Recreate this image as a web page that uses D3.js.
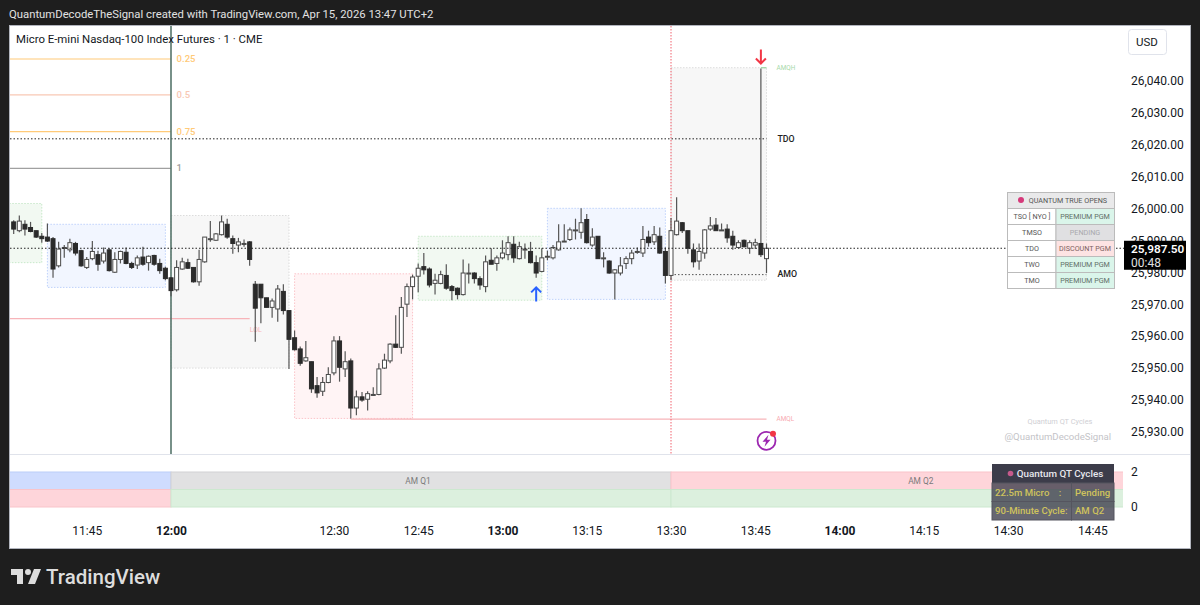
<!DOCTYPE html>
<html>
<head>
<meta charset="utf-8">
<script src="https://cdn.jsdelivr.net/npm/d3@7"></script>
<style>
  html, body { margin: 0; padding: 0; background: #1e1e1e; }
  svg { display: block; }
  text { font-family: Roboto, "Noto Sans", sans-serif; }
</style>
</head>
<body>
<div id="chart"></div>
<script>
var svgWidth = 1200;
var svgHeight = 605;

// Bars, one minute each. First bar sits 28 bars before 12:00
var firstBar = -28;
var opens = [
  25995.75,25993,25995,25994,25993,25991.25,25991,25990.5,25982,25987.5,
  25987,25989,25986.75,25981.5,25984.25,25985.5,25983.5,25987,25980,25984,
  25986.25,25982.75,25982.25,25984.75,25983,25985.25,25982.75,25981.25,
  25978.25,25974.5,25981,25983,25981.5,25977,25983.25,25990.25,25990,25991.75,
  25995,25990.5,25988.5,25989,25989.5,25976.25,25976.25,25972,25969,25968.5,
  25974,25968,25959.5,25956,25952.25,25952,25944.5,25942.75,25945.5,25948.5,
  25958.5,25949.75,25952.25,25937.5,25941,25940.25,25941.5,25941.75,25950,25952.25,
  25957.5,25956.5,25970,25975.5,25978.75,25981.75,25981,25976.5,25976.5,25979,
  25975.5,25975,25973,25979.5,25979.75,25978,25975.5,25983.75,25982.75,25984.5,
  25985.5,25988.75,25984.25,25987,25986.5,25983,25980.25,25984.75,25984.5,25987,
  25989.5,25990.25,25993,25992.5,25996.5,25988.5,25991.25,25984.25,25983.5,25979.75,
  25979.75,25982.75,25984.25,25986.25,25986,25991,25989.5,25991.25,25986.5,25979,
  25991.75,25995.5,25993,25987,25983.5,25986,25993.5,25994.75,25993.25,25993.5,
  25991.25,25987.75,25990,25987.5,25988.5,25989,25984.25
];
var highs = [
  25996.25,25997.75,25996.25,25995.75,25993,25992.25,25995.25,25991,25989.5,25988.5,
  25990.5,25989.5,25987,25984.75,25989.75,25986.75,25987.75,25987.5,25986.25,25986.75,
  25987.75,25983.25,25985.25,25988,25985.25,25985.5,25984.25,25981.75,
  25978.5,25983.75,25984.5,25984.25,25981.5,25987,25991,25996,25992.25,25997.75,
  25996.75,25991.5,25990.75,25990.25,25989.75,25977.25,25976.25,25972,25971.75,25976,
  25976.25,25968,25961.75,25956.75,25958.5,25952,25947.25,25947.25,25950.25,25960,
  25960,25955.25,25953,25943,25942.5,25942.75,25944,25951.5,25954.5,25957.75,
  25966.5,25972.25,25976.5,25979.25,25982.75,25986,25981.5,25979.5,25980.5,25982.5,
  25976,25975.25,25984,25982.75,25980,25978.75,25985.25,25987.5,25985.25,25990,
  25991.25,25991.25,25989.5,25989,25989.5,25985.25,25987.5,25986.75,25988.5,25995,
  25995,25994,25996.75,26000,25998.25,25993.75,25991.25,25986.25,25983.75,25981,
  25984.75,25985,25987,25987.75,25994.5,25993,25994.5,25994,25987.75,25997,
  26003.5,25995.75,25993,25989,25989,25993.5,25997.25,25997,25995.25,25995,
  25993,25990,25990.25,25990,25990.5,26043.75,25989
];
var lows = [
  25992,25992.5,25991.5,25992.5,25990.75,25989.25,25989.5,25978.25,25981.5,25984.5,
  25986.25,25985.25,25981.75,25981,25983.75,25980.5,25982.75,25980.25,25979.75,25982.75,
  25982.5,25981,25981,25982,25980.5,25982,25979.5,25977.5,
  25972.5,25974,25980.75,25981,25976.75,25975.75,25983,25989.5,25989.75,25991.5,
  25990.5,25985.75,25986.25,25988,25982,25958.25,25964,25969,25965.75,25964.5,
  25966.75,25949.75,25955.5,25950.75,25952,25942.25,25940.75,25941.25,25945.25,25947.75,
  25945.75,25947.25,25934.25,25935.25,25939.5,25936.75,25941.25,25941.5,25949.75,25951.5,
  25956.25,25954.5,25966,25971.5,25973.75,25979.25,25975.25,25973,25976.25,25974.5,
  25971.25,25971.5,25972.75,25976.5,25976.5,25974.5,25973.75,25982.5,25980.5,25984,
  25983.75,25983,25984,25984.25,25982.75,25978.25,25980,25983.75,25984,25986.75,
  25989.5,25989.75,25990.25,25990.5,25989,25988,25984.25,25981.5,25979.5,25971.5,
  25979,25981,25982.5,25985.75,25984.75,25988,25988.5,25985.75,25976.5,25977.5,
  25991.5,25992.25,25985.75,25981.5,25980.75,25984.25,25993,25993,25993,25989.25,
  25987,25987.5,25987.75,25985.75,25987.25,25984.75,25979.75
];
var closes = [
  25993.5,25996,25993.5,25992.75,25991,25990.5,25989.75,25981,25987.25,25987.75,
  25989.25,25986,25982,25984,25986.5,25982.5,25986,25980.5,25984,25986.5,
  25982.75,25981.5,25984.5,25982.5,25985,25982.5,25980.5,25978,
  25974.25,25981.5,25983.25,25981.25,25977,25984,25991,25990.5,25992,25995.75,
  25991,25989,25989.5,25989,25984,25968.75,25972,25969,25971,25974.75,
  25968,25959,25955.75,25951.5,25953.25,25943.5,25942.25,25945.5,25948,25958.5,
  25950.25,25952,25937.5,25941,25940,25942,25941.75,25949.75,25952.5,25957.5,
  25956.5,25969,25975.5,25978.5,25981.25,25980.75,25976,25977.5,25979.25,25975,
  25974.25,25973,25979.75,25979.75,25978,25976,25983.25,25982.5,25984.5,25986,
  25989.25,25984.5,25988,25987.25,25983,25979.75,25984.5,25985,25987.75,25989.5,
  25989.75,25993.25,25993.25,25995.5,25989.25,25991,25984.25,25984.5,25979.75,25980.75,
  25982,25984.25,25986,25986.5,25990.25,25989.25,25991.75,25986,25979,25993,
  25996,25993,25987.5,25983.25,25986.5,25993.25,25994.5,25993,25993.25,25990.75,
  25988.5,25989.25,25988,25989.25,25989.25,25985.5,25987.5
];

// Price axis and the opening levels
var priceTicks = [26040, 26030, 26020, 26010, 26000, 25990, 25980, 25970, 25960, 25950, 25940, 25930];
var lastPrice = 25987.5;
var countdown = "00:48";
var fibNames = ["0.25", "0.5", "0.75", "1"];
var fibPrices = [26046.75, 26035.5, 26024, 26012.5];
var fibColors = ["#ffca78", "#f8c8b4", "#ffca78", "#a0a0a0"];
var tdoPrice = 26021.75;
var amoPrice = 25979.25;
var amqhPrice = 26044;
var amqlPrice = 25934;
var lolPrice = 25965.5;

// Session boxes: first bar, last bar, top price, bottom price
var boxStarts = [-40, -22, 0, 22, 44, 67, 89];
var boxEnds = [-23, -1, 21, 43, 66, 88, 106];
var boxTops = [26001.5, 25995, 25997.75, 25979.5, 25991.25, 26000, 26044];
var boxBottoms = [25983, 25975.25, 25950, 25934.25, 25971.25, 25971.5, 25977.5];
var boxKinds = ["green", "blue", "grey", "red", "green", "blue", "grey"];

// Time axis
var timeBars = [-15, 0, 29, 44, 59, 74, 89, 104, 119, 134, 149, 164];
var timeLabels = ["11:45", "12:00", "12:30", "12:45", "13:00", "13:15", "13:30", "13:45", "14:00", "14:15", "14:30", "14:45"];
var hourLabels = ["12:00", "13:00", "14:00"];

// Cycle pane: upper row (1 to 2) and lower row (0 to 1)
var cycleStarts = [-90, 0, 89];
var cycleEnds = [0, 89, 179];
var cycleNames = ["", "AM Q1", "AM Q2"];
var cycleUpper = ["blue", "grey", "red"];
var cycleLower = ["red", "green", "green"];
var paneTicks = [0, 2];

// The two tables
var openNames = ["TSO [ NYO ]", "TMSO", "TDO", "TWO", "TMO"];
var openStates = ["PREMIUM PGM", "PENDING", "DISCOUNT PGM", "PREMIUM PGM", "PREMIUM PGM"];
var cycleRowNames = ["22.5m Micro    :", "90-Minute Cycle:"];
var cycleRowValues = ["Pending", "AM Q2"];

var sessionFill = { green: "#f2f9f2", blue: "#f2f6ff", grey: "#f7f7f7", red: "#fff4f5" };
var sessionLine = { green: "#c8e8ca", blue: "#bfd2fb", grey: "#dcdcdc", red: "#fbc3c8" };
var paneFill = { green: "#dcf0de", blue: "#cfdcfe", grey: "#e1e1e2", red: "#fed5da" };
var paneEdge = { green: "#cce8cf", blue: "#bccdf8", grey: "#d2d2d4", red: "#f9c4ca" };
var stateFill = { "PREMIUM PGM": "#daf5ea", "PENDING": "#e0e0e2", "DISCOUNT PGM": "#fde3e3" };
var stateText = { "PREMIUM PGM": "#5f6e68", "PENDING": "#a9a9ad", "DISCOUNT PGM": "#7d5f5f" };

var plot = { left: 10, right: 1124, top: 26, bottom: 454 };
var pane = { top: 455, bottom: 518 };

var bars = d3.range(opens.length).map(function(i) {
  return { bar: firstBar + i, open: opens[i], high: highs[i], low: lows[i], close: closes[i] };
});

var svg = d3.select("#chart")
  .append("svg")
  .attr("width", svgWidth)
  .attr("height", svgHeight);

// scales: bar number to x, price to y
var xScale = d3.scaleLinear().domain([0, 89]).range([171, 671]);
var yScale = d3.scaleLinear().domain([25930, 26040]).range([432, 80.5]);
var paneScale = d3.scaleLinear().domain([0, 2]).range([507, 472]);

// white chart card on the dark page
svg.append("rect")
  .attr("x", 9.5).attr("y", 25.5)
  .attr("width", 1181).attr("height", 523)
  .attr("fill", "#ffffff")
  .attr("stroke", "#b2b5be");

svg.append("text")
  .attr("x", 9).attr("y", 18)
  .attr("font-size", 11.3)
  .attr("fill", "#e2e2e2")
  .text("QuantumDecodeTheSignal created with TradingView.com, Apr 15, 2026 13:47 UTC+2");

var defs = svg.append("defs");
defs.append("clipPath").attr("id", "plotClip").append("rect")
  .attr("x", plot.left).attr("y", plot.top)
  .attr("width", plot.right - plot.left).attr("height", plot.bottom - plot.top);
defs.append("clipPath").attr("id", "paneClip").append("rect")
  .attr("x", plot.left).attr("y", pane.top)
  .attr("width", 1123 - plot.left).attr("height", pane.bottom - pane.top);

var plotGroup = svg.append("g").attr("clip-path", "url(#plotClip)");

// session boxes
plotGroup.selectAll(".box")
  .data(boxStarts)
  .enter()
  .append("rect")
  .attr("class", "box")
  .attr("x", d => xScale(d))
  .attr("y", (d, i) => yScale(boxTops[i]))
  .attr("width", (d, i) => xScale(boxEnds[i]) - xScale(d))
  .attr("height", (d, i) => yScale(boxBottoms[i]) - yScale(boxTops[i]))
  .attr("fill", (d, i) => sessionFill[boxKinds[i]])
  .attr("stroke", (d, i) => sessionLine[boxKinds[i]])
  .attr("stroke-dasharray", "1.5 1.5");

// fib lines left of 12:00
fibPrices.forEach(function(p, i) {
  plotGroup.append("line")
    .attr("x1", plot.left).attr("x2", xScale(0))
    .attr("y1", yScale(p)).attr("y2", yScale(p))
    .attr("stroke", fibColors[i])
    .attr("stroke-width", i == 0 || i == 2 ? 1.1 : 1.4);
  plotGroup.append("text")
    .attr("x", xScale(1)).attr("y", yScale(p) + 3)
    .attr("font-size", 9.5)
    .attr("font-weight", 500)
    .attr("fill", fibColors[i])
    .text(fibNames[i]);
});

// open and liquidity levels
function level(price, from, to, color, dash, width) {
  plotGroup.append("line")
    .attr("x1", from).attr("x2", to)
    .attr("y1", yScale(price)).attr("y2", yScale(price))
    .attr("stroke", color)
    .attr("stroke-width", width || 1)
    .attr("stroke-dasharray", dash);
}
level(tdoPrice, plot.left, xScale(106), "#222222", "1.5 2");
level(amoPrice, xScale(89), xScale(106), "#555555", "1.5 2");
level(lolPrice, plot.left, xScale(14), "#f7b4b9", null, 1.3);
level(amqlPrice, xScale(32), xScale(106), "#f7b4b9", null, 1.3);
level(amqhPrice, xScale(105), xScale(106), "#9fd8a4", null, 1.3);

function smallLabel(x, price, txt, color, size, weight) {
  plotGroup.append("text")
    .attr("x", x).attr("y", yScale(price) + size * 0.35)
    .attr("font-size", size)
    .attr("font-weight", weight || 400)
    .attr("fill", color)
    .text(txt);
}
smallLabel(xScale(106) + 10, amqhPrice, "AMQH", "#a5d9a9", 6.4);
smallLabel(xScale(106) + 10, amqlPrice, "AMQL", "#f7a9b0", 6.4);
smallLabel(xScale(106) + 11, tdoPrice, "TDO", "#222222", 8.8, 500);
smallLabel(xScale(106) + 11, amoPrice + 0.25, "AMO", "#222222", 8.8, 500);
smallLabel(xScale(14), lolPrice - 3.3, "LOL", "#f7b4b9", 7);

// vertical session lines
plotGroup.append("line")
  .attr("x1", xScale(0)).attr("x2", xScale(0))
  .attr("y1", plot.top).attr("y2", plot.bottom)
  .attr("stroke", "#56756b")
  .attr("stroke-width", 1.6);
plotGroup.append("line")
  .attr("x1", xScale(89)).attr("x2", xScale(89))
  .attr("y1", plot.top).attr("y2", plot.bottom)
  .attr("stroke", "#f0606c")
  .attr("stroke-dasharray", "1.5 1.5");

// candles
var candles = plotGroup.selectAll(".candle")
  .data(bars)
  .enter()
  .append("g")
  .attr("class", "candle");

candles.append("line")
  .attr("x1", d => xScale(d.bar))
  .attr("x2", d => xScale(d.bar))
  .attr("y1", d => yScale(d.high))
  .attr("y2", d => yScale(d.low))
  .attr("stroke", "#555555")
  .attr("stroke-width", 1.2);

candles.append("rect")
  .attr("x", d => xScale(d.bar) - 2)
  .attr("y", d => yScale(Math.max(d.open, d.close)))
  .attr("width", 4)
  .attr("height", d => Math.max(1, Math.abs(yScale(d.open) - yScale(d.close))))
  .attr("fill", d => d.close >= d.open ? "#ffffff" : "#2b2b2b")
  .attr("stroke", d => d.close >= d.open ? "#4a4a4a" : "#2b2b2b")
  .attr("stroke-width", 1);

// signal arrows
function arrow(bar, price, color, up) {
  var s = up ? 1 : -1;
  var y = yScale(price);
  var x = xScale(bar);
  plotGroup.append("path")
    .attr("d", `M${x},${y} v${14 * s} M${x - 5},${y + 5 * s} L${x},${y} L${x + 5},${y + 5 * s}`)
    .attr("fill", "none")
    .attr("stroke", color)
    .attr("stroke-width", 2);
}
arrow(105, amqhPrice + 1.3, "#f23645", false);
arrow(65, 25975.25, "#2962ff", true);

// lightning badge under the last bars
var badge = svg.append("g")
  .attr("transform", `translate(${xScale(106)}, ${yScale(25927.25)})`);
badge.append("circle").attr("r", 9)
  .attr("fill", "#ffffff").attr("stroke", "#9c27b0").attr("stroke-width", 1.8);
badge.append("path")
  .attr("d", "M2,-6 L-4,1 L-0.5,1 L-2,6 L4,-1 L0.5,-1 Z")
  .attr("fill", "#9c27b0");
badge.append("circle").attr("cx", 6.5).attr("cy", -7).attr("r", 3).attr("fill", "#f23645");

// title and watermark
svg.append("text")
  .attr("x", 16).attr("y", 43)
  .attr("font-size", 11.4)
  .attr("fill", "#131722")
  .text("Micro E-mini Nasdaq-100 Index Futures · 1 · CME");

svg.append("text")
  .attr("x", 1060).attr("y", 424)
  .attr("text-anchor", "middle")
  .attr("font-size", 7.4)
  .attr("fill", "#cfcfd4")
  .text("Quantum QT Cycles");
svg.append("text")
  .attr("x", 1111).attr("y", 440)
  .attr("text-anchor", "end")
  .attr("font-size", 9.6)
  .attr("fill", "#c4c4c8")
  .text("@QuantumDecodeSignal");

// true opens table
var tableGroup = svg.append("g");
var rowH = 16;
var tableTop = 192.5;
tableGroup.append("rect")
  .attr("x", 1007.5).attr("y", tableTop)
  .attr("width", 107).attr("height", 16)
  .attr("fill", "#e9e9ea").attr("stroke", "#bbbbbb");
tableGroup.append("circle")
  .attr("cx", 1021).attr("cy", tableTop + 7.5).attr("r", 3)
  .attr("fill", "#d6397a");
tableGroup.append("text")
  .attr("x", 1068).attr("y", tableTop + 10)
  .attr("text-anchor", "middle")
  .attr("font-size", 7.2)
  .attr("fill", "#555555")
  .text("QUANTUM TRUE OPENS");

openNames.forEach(function(name, i) {
  var y = tableTop + 16 + i * rowH;
  var state = openStates[i];
  tableGroup.append("rect")
    .attr("x", 1007.5).attr("y", y).attr("width", 48.5).attr("height", rowH)
    .attr("fill", "#ffffff").attr("stroke", "#bbbbbb");
  tableGroup.append("rect")
    .attr("x", 1056).attr("y", y).attr("width", 58.5).attr("height", rowH)
    .attr("fill", stateFill[state]).attr("stroke", "#bbbbbb");
  tableGroup.append("text")
    .attr("x", 1032).attr("y", y + 10.5)
    .attr("text-anchor", "middle").attr("font-size", 7.2).attr("fill", "#555555")
    .text(name);
  tableGroup.append("text")
    .attr("x", 1085).attr("y", y + 10.5)
    .attr("text-anchor", "middle").attr("font-size", 7.2).attr("fill", stateText[state])
    .text(state);
});

// last price dotted line runs over the table
level(lastPrice, plot.left, plot.right, "#222222", "1.5 2");

// price axis, the two ticks behind the last price tag stay in place
var priceAxis = d3.axisRight(yScale)
  .tickValues(priceTicks)
  .tickSize(0)
  .tickPadding(0)
  .tickFormat(d3.format(",.2f"));
var priceG = svg.append("g")
  .attr("transform", "translate(1131, 0)")
  .call(priceAxis);
priceG.select(".domain").remove();
priceG.selectAll("text")
  .attr("font-size", 12)
  .attr("font-family", "Roboto, sans-serif")
  .attr("fill", "#131722");

// last price tag on top of the axis
svg.append("rect")
  .attr("x", 1124).attr("y", yScale(lastPrice) - 7.5)
  .attr("width", 62).attr("height", 29)
  .attr("fill", "#000000");
svg.append("text")
  .attr("x", 1131).attr("y", yScale(lastPrice) + 5)
  .attr("font-size", 11.8).attr("font-weight", 600)
  .attr("fill", "#ffffff")
  .text(d3.format(",.2f")(lastPrice));
svg.append("text")
  .attr("x", 1131).attr("y", yScale(lastPrice) + 18.5)
  .attr("font-size", 12)
  .attr("fill", "#e0e0e0")
  .text(countdown);

// USD button
svg.append("rect")
  .attr("x", 1128.5).attr("y", 29.5)
  .attr("width", 38).attr("height", 25).attr("rx", 3)
  .attr("fill", "#ffffff").attr("stroke", "#e0e3eb");
svg.append("text")
  .attr("x", 1136).attr("y", 46)
  .attr("font-size", 11.5).attr("fill", "#131722")
  .text("USD");

// pane separator
svg.append("line")
  .attr("x1", plot.left).attr("x2", 1190)
  .attr("y1", 454.5).attr("y2", 454.5)
  .attr("stroke", "#e0e3eb");

// cycle pane
var paneGroup = svg.append("g").attr("clip-path", "url(#paneClip)");
cycleStarts.forEach(function(start, i) {
  paneGroup.append("rect")
    .attr("x", xScale(start)).attr("y", paneScale(2))
    .attr("width", xScale(cycleEnds[i]) - xScale(start))
    .attr("height", paneScale(1) - paneScale(2))
    .attr("fill", paneFill[cycleUpper[i]])
    .attr("stroke", paneEdge[cycleUpper[i]]);
  paneGroup.append("rect")
    .attr("x", xScale(start)).attr("y", paneScale(1))
    .attr("width", xScale(cycleEnds[i]) - xScale(start))
    .attr("height", paneScale(0) - paneScale(1))
    .attr("fill", paneFill[cycleLower[i]])
    .attr("stroke", paneEdge[cycleLower[i]]);
  paneGroup.append("text")
    .attr("x", (xScale(start) + xScale(cycleEnds[i])) / 2 - 3)
    .attr("y", paneScale(1.5) + 3)
    .attr("text-anchor", "middle")
    .attr("font-size", 8.4)
    .attr("fill", "#7a7a7a")
    .text(cycleNames[i]);
});

var paneAxis = d3.axisRight(paneScale)
  .tickValues(paneTicks)
  .tickSize(0)
  .tickPadding(0)
  .tickFormat(d3.format("d"));
var paneG = svg.append("g")
  .attr("transform", "translate(1131, 0)")
  .call(paneAxis);
paneG.select(".domain").remove();
paneG.selectAll("text").attr("font-size", 12)
  .attr("font-family", "Roboto, sans-serif")
  .attr("fill", "#131722");

// quantum cycles table
var cycleTable = svg.append("g");
cycleTable.append("rect")
  .attr("x", 992).attr("y", 464)
  .attr("width", 122).attr("height", 19)
  .attr("fill", "#3c3c4a");
cycleTable.append("circle")
  .attr("cx", 1010.5).attr("cy", 473.5).attr("r", 2.8)
  .attr("fill", "#c65a8c");
cycleTable.append("text")
  .attr("x", 1060).attr("y", 477)
  .attr("text-anchor", "middle")
  .attr("font-size", 9.8)
  .attr("font-weight", 500)
  .attr("fill", "#e8e8ee")
  .text("Quantum QT Cycles");
cycleRowNames.forEach(function(name, i) {
  var y = 483 + i * 18.5;
  cycleTable.append("rect")
    .attr("x", 992).attr("y", y)
    .attr("width", 79.5).attr("height", 18.5)
    .attr("fill", "#3c3c4a").attr("fill-opacity", 0.78)
    .attr("stroke", "#55555f");
  cycleTable.append("rect")
    .attr("x", 1071.5).attr("y", y)
    .attr("width", 42.5).attr("height", 18.5)
    .attr("fill", "#3c3c4a").attr("fill-opacity", 0.78)
    .attr("stroke", "#55555f");
  cycleTable.append("text")
    .attr("x", 995).attr("y", y + 12.5)
    .attr("xml:space", "preserve")
    .attr("font-size", 9.6).attr("font-weight", 500)
    .attr("fill", "#cfc35c")
    .text(name);
  cycleTable.append("text")
    .attr("x", 1075).attr("y", y + 12.5)
    .attr("font-size", 9.6).attr("font-weight", 500)
    .attr("fill", "#cfc35c")
    .text(cycleRowValues[i]);
});

// time axis
var timeAxis = d3.axisBottom(xScale)
  .tickValues(timeBars)
  .tickSize(0)
  .tickPadding(0)
  .tickFormat((d, i) => timeLabels[i]);
var timeG = svg.append("g")
  .attr("transform", "translate(0, 526)")
  .call(timeAxis);
timeG.select(".domain").remove();
timeG.selectAll("text")
  .attr("font-size", 12)
  .attr("font-family", "Roboto, sans-serif")
  .attr("fill", "#131722")
  .attr("font-weight", (d, i) => hourLabels.includes(timeLabels[i]) ? 700 : 400);

// TradingView logo
svg.append("path")
  .attr("transform", "translate(9, 563)")
  .attr("d", "M14 6H2v6h6v9h6V6Zm12 15h-7l6-15h7l-6 15Zm-7-9a3 3 0 1 0 0-6 3 3 0 0 0 0 6Z")
  .attr("fill", "#dddddd");
svg.append("text")
  .attr("x", 46).attr("y", 584)
  .attr("font-size", 20.5)
  .attr("font-weight", 500)
  .attr("fill", "#dddddd")
  .text("TradingView");
</script>
</body>
</html>
